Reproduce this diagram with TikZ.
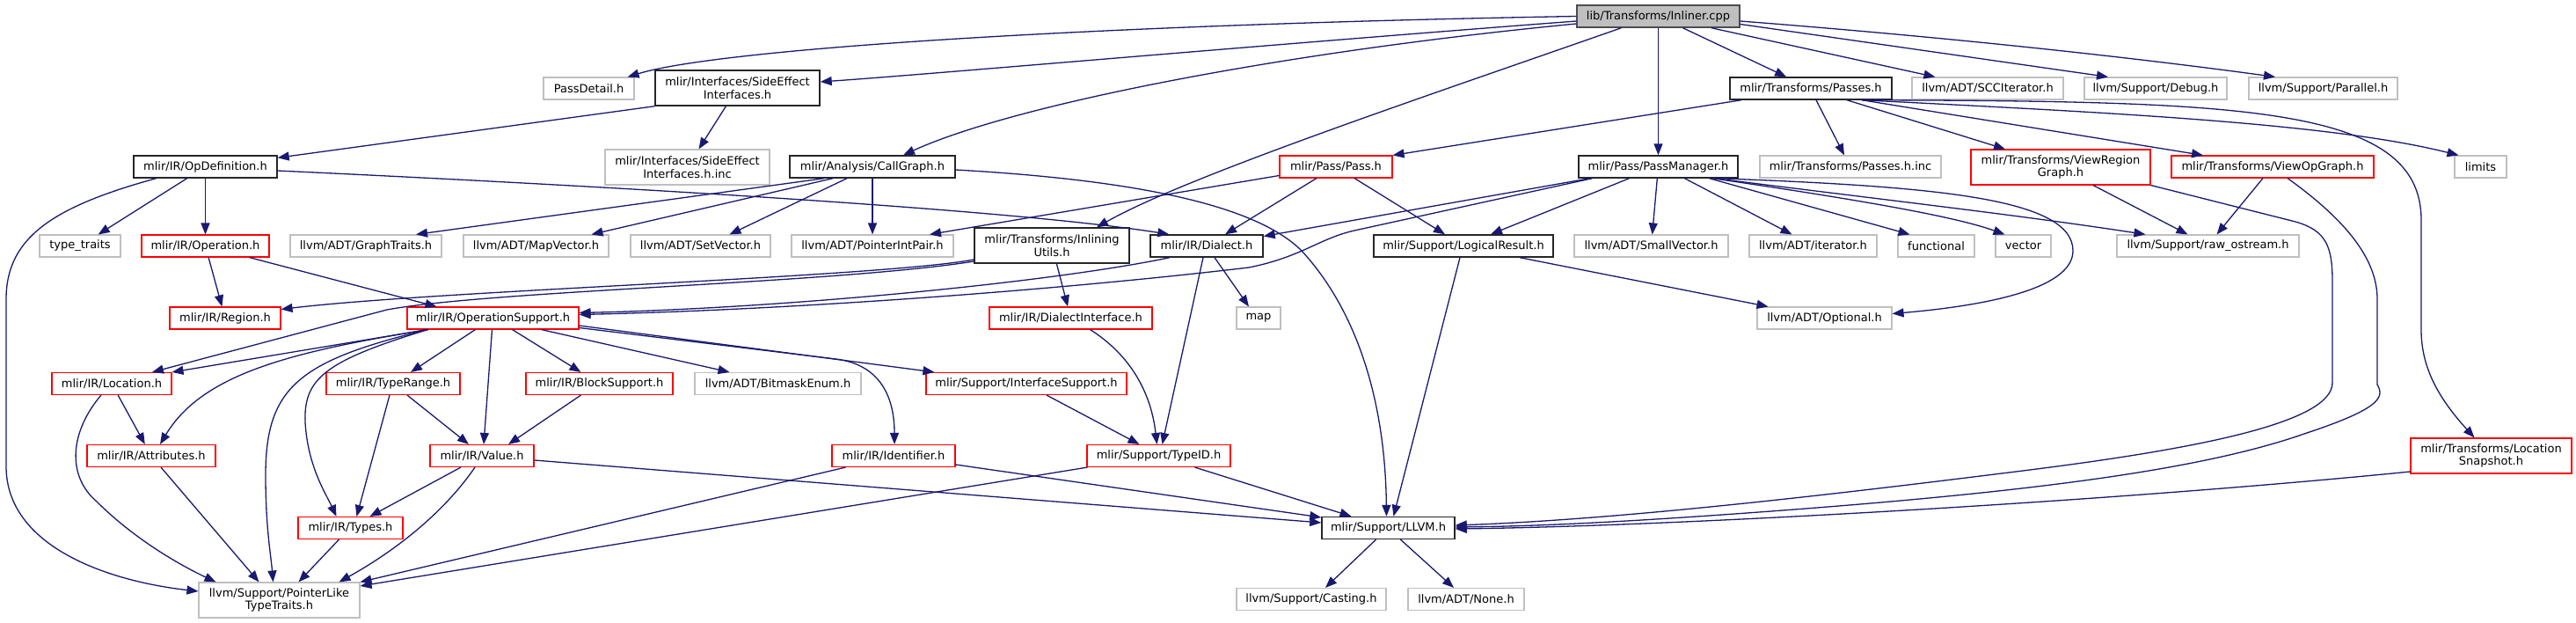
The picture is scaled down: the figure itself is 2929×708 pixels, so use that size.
\documentclass[tikz,border=0pt]{standalone}
\usepackage{fontspec}
\setmainfont{DejaVu Sans}
\usetikzlibrary{arrows.meta}
\definecolor{edgec}{HTML}{191970}
\definecolor{grayb}{HTML}{BFBFBF}
\definecolor{redb}{HTML}{FF0000}
\tikzset{
 box/.style={rectangle, inner sep=0pt, minimum height=25pt, font=\fontsize{13pt}{14.5pt}\selectfont, align=center, line width=1.1pt},
 gbox/.style={box, draw=grayb},
 rbox/.style={box, draw=redb},
 bbox/.style={box, draw=black!85, line width=1.4pt},
 rootbox/.style={box, draw=black!70, fill=grayb, line width=1.4pt},
 tall/.style={minimum height=40pt},
 e/.style={draw=edgec, line width=1.3pt, -{Triangle[length=13pt,width=10pt]}},
}
\begin{document}
\begin{tikzpicture}[x=1pt,y=-1pt]
\path[use as bounding box] (0,0) rectangle (2929,708);
% row 0
\node[rootbox, minimum width=185pt] (root) at (1885.5,18.5) {lib/Transforms/Inliner.cpp};
% row 1
\node[gbox, minimum width=103pt] (passdetail) at (669.5,100.5) {PassDetail.h};
\node[bbox, tall, minimum width=187pt] (sideeff) at (838.5,100) {mlir/Interfaces/SideEffect\\Interfaces.h};
\node[bbox, minimum width=184pt] (passes) at (2059,100.5) {mlir/Transforms/Passes.h};
\node[gbox, minimum width=172pt] (scc) at (2260,100.5) {llvm/ADT/SCCIterator.h};
\node[gbox, minimum width=162pt] (debug) at (2451,100.5) {llvm/Support/Debug.h};
\node[gbox, minimum width=169pt] (parallel) at (2641.5,100.5) {llvm/Support/Parallel.h};
% row 2
\node[bbox, minimum width=163pt] (opdef) at (233.5,189.5) {mlir/IR/OpDefinition.h};
\node[gbox, tall, minimum width=187pt] (sideinc) at (781.5,190) {mlir/Interfaces/SideEffect\\Interfaces.h.inc};
\node[bbox, minimum width=188pt] (callgraph) at (992,189.5) {mlir/Analysis/CallGraph.h};
\node[rbox, minimum width=128pt] (pass) at (1519,189.5) {mlir/Pass/Pass.h};
\node[bbox, minimum width=181pt] (passmgr) at (1885.5,189.5) {mlir/Pass/PassManager.h};
\node[gbox, minimum width=206pt] (passesinc) at (2104,189.5) {mlir/Transforms/Passes.h.inc};
\node[rbox, tall, minimum width=204pt] (viewregion) at (2343,190) {mlir/Transforms/ViewRegion\\Graph.h};
\node[rbox, minimum width=230pt] (viewop) at (2584,189.5) {mlir/Transforms/ViewOpGraph.h};
\node[gbox, minimum width=59pt] (limits) at (2820.5,189.5) {limits};
% row 3
\node[gbox, minimum width=92pt] (typetraits) at (91,279.5) {type\_traits};
\node[rbox, minimum width=145pt] (operation) at (233.5,279.5) {mlir/IR/Operation.h};
\node[gbox, minimum width=172pt] (graphtraits) at (416,279.5) {llvm/ADT/GraphTraits.h};
\node[gbox, minimum width=165pt] (mapvector) at (609.5,279.5) {llvm/ADT/MapVector.h};
\node[gbox, minimum width=159pt] (setvector) at (796.5,279.5) {llvm/ADT/SetVector.h};
\node[gbox, minimum width=184pt] (pip) at (992,279.5) {llvm/ADT/PointerIntPair.h};
\node[bbox, tall, minimum width=176pt] (inlutils) at (1196,279) {mlir/Transforms/Inlining\\Utils.h};
\node[bbox, minimum width=128pt] (dialect) at (1372,279.5) {mlir/IR/Dialect.h};
\node[bbox, minimum width=204pt] (logres) at (1664,279.5) {mlir/Support/LogicalResult.h};
\node[gbox, minimum width=175pt] (smallvec) at (1877.5,279.5) {llvm/ADT/SmallVector.h};
\node[gbox, minimum width=145pt] (iterator) at (2061.5,279.5) {llvm/ADT/iterator.h};
\node[gbox, minimum width=87pt] (functional) at (2201.5,279.5) {functional};
\node[gbox, minimum width=63pt] (vector) at (2300.5,279.5) {vector};
\node[gbox, minimum width=207pt] (rawos) at (2510.5,279.5) {llvm/Support/raw\_ostream.h};
% row 4
\node[rbox, minimum width=126pt] (region) at (256,361.5) {mlir/IR/Region.h};
\node[rbox, minimum width=195pt] (opsupport) at (560.5,361.5) {mlir/IR/OperationSupport.h};
\node[rbox, minimum width=185pt] (dialint) at (1217.5,361.5) {mlir/IR/DialectInterface.h};
\node[gbox, minimum width=50pt] (map) at (1431,361.5) {map};
\node[gbox, minimum width=153pt] (optional) at (2074.5,361.5) {llvm/ADT/Optional.h};
% row 5
\node[rbox, minimum width=136pt] (location) at (127,436) {mlir/IR/Location.h};
\node[rbox, minimum width=152pt] (typerange) at (447,436) {mlir/IR/TypeRange.h};
\node[rbox, minimum width=167pt] (blocksupport) at (681.5,436) {mlir/IR/BlockSupport.h};
\node[gbox, minimum width=189pt] (bitmask) at (884.5,436) {llvm/ADT/BitmaskEnum.h};
\node[rbox, minimum width=228pt] (ifsupport) at (1167,436) {mlir/Support/InterfaceSupport.h};
\node[rbox, tall, minimum width=183pt] (locsnap) at (2832.5,518) {mlir/Transforms/Location\\Snapshot.h};
% row 6
\node[rbox, minimum width=146pt] (attributes) at (172,518) {mlir/IR/Attributes.h};
\node[rbox, minimum width=118pt] (value) at (548,518) {mlir/IR/Value.h};
\node[rbox, minimum width=140pt] (identifier) at (1016,518) {mlir/IR/Identifier.h};
\node[rbox, minimum width=163pt] (typeid) at (1317.5,518) {mlir/Support/TypeID.h};
% row 7
\node[rbox, minimum width=119pt] (types) at (398.5,600) {mlir/IR/Types.h};
\node[bbox, minimum width=151pt] (llvm) at (1578.5,600) {mlir/Support/LLVM.h};
% row 8
\node[gbox, tall, minimum width=183pt] (pltt) at (317.5,682) {llvm/Support/PointerLike\\TypeTraits.h};
\node[gbox, minimum width=170pt] (casting) at (1491,681) {llvm/Support/Casting.h};
\node[gbox, minimum width=132pt] (none) at (1667,681) {llvm/ADT/None.h};

% ---- edges from root
\draw[e] (root.west) .. controls (1250,28) and (820,55) .. ([xshift=-8pt]passdetail.north east);
\draw[e] ([yshift=-5.5pt]root.west) .. controls (1450,50) and (1050,85) .. ([yshift=7pt]sideeff.east);
\draw[e] ([yshift=-8.5pt]root.west) .. controls (1450,60) and (1150,120) .. ([xshift=35pt]callgraph.north);
\draw[e] ([xshift=-42pt]root.south) .. controls (1620,110) and (1350,200) .. ([xshift=51pt]inlutils.north);
\draw[e] (root) -- (passmgr);
\draw[e] (root) -- (passes);
\draw[e] (root) -- (scc);
\draw[e] ([yshift=-9pt]root.east) -- ([xshift=-54pt]debug.north);
\draw[e] ([yshift=-5.5pt]root.east) .. controls (2250,45) and (2460,70) .. ([xshift=-54.5pt]parallel.north);
% ---- side effect
\draw[e] (sideeff) -- (sideinc);
\draw[e] (sideeff.south west) -- ([yshift=-3pt]opdef.north east);
% ---- opdefinition
\draw[e] (opdef) -- (typetraits);
\draw[e] (opdef) -- (operation);
\draw[e] ([xshift=-56pt]opdef.south) .. controls (60,235) and (7,270) .. (7,340) -- (7,530) .. controls (7,620) and (120,660) .. ([yshift=10pt]pltt.west);
\draw[e] ([yshift=-4.5pt]opdef.east) .. controls (700,212) and (1150,238) .. ([xshift=22pt]dialect.north west);
% ---- callgraph
\draw[e] ([xshift=-55pt]callgraph.south) -- ([xshift=57pt]graphtraits.north);
\draw[e] ([xshift=-45pt]callgraph.south) -- ([xshift=63pt]mapvector.north);
\draw[e] ([xshift=-29pt]callgraph.south) -- ([xshift=33pt]setvector.north);
\draw[e] (callgraph) -- (pip);
\draw[e] ([yshift=-3.5pt]callgraph.east) .. controls (1300,205) and (1430,235) .. (1480,285) .. controls (1540,350) and (1575,450) .. ([xshift=-2pt]llvm.north);
% ---- pass
\draw[e] ([yshift=-10pt]pass.west) -- ([xshift=65pt]pip.north);
\draw[e] ([xshift=-22pt]pass.south) -- ([xshift=21pt]dialect.north);
\draw[e] ([xshift=21pt]pass.south) -- ([xshift=-21pt]logres.north);
% ---- passes
\draw[e] ([xshift=-79pt]passes.south) -- (pass.north east);
\draw[e] ([xshift=6pt]passes.south) -- ([xshift=-7pt]passesinc.north);
\draw[e] ([xshift=41pt]passes.south) -- ([xshift=-63pt]viewregion.north);
\draw[e] ([xshift=58pt]passes.south) -- ([xshift=-79pt]viewop.north);
\draw[e] ([xshift=58pt]passes.south) .. controls (2400,128) and (2650,140) .. ([xshift=-25pt]limits.north);
\draw[e] ([xshift=58pt]passes.south) .. controls (2550,115) and (2753,120) .. (2753,250) -- (2753,375) .. controls (2753,420) and (2775,455) .. ([xshift=-19pt]locsnap.north);
% ---- passmanager
\draw[e] ([xshift=-78pt]passmgr.south) -- ([yshift=11pt]dialect.east);
\draw[e] ([xshift=-75pt]passmgr.south) -- (1540,262) .. controls (1500,271) and (1480,292) .. (1420,304) .. controls (1200,330) and (900,352) .. ([yshift=4pt]opsupport.east);
\draw[e] ([xshift=-33pt]passmgr.south) -- ([xshift=31pt]logres.north);
\draw[e] (passmgr) -- (smallvec);
\draw[e] ([xshift=30pt]passmgr.south) -- ([xshift=-24pt]iterator.north);
\draw[e] ([xshift=58pt]passmgr.south) -- ([xshift=-30pt]functional.north);
\draw[e] ([xshift=62pt]passmgr.south) .. controls (2100,225) and (2220,245) .. ([xshift=-21pt]vector.north);
\draw[e] ([xshift=64pt]passmgr.south) .. controls (2150,228) and (2300,245) .. ([xshift=33pt]rawos.north west);
\draw[e] ([xshift=68pt]passmgr.south) .. controls (2200,212) and (2357,225) .. (2357,285) .. controls (2357,330) and (2250,348) .. ([yshift=5pt]optional.east);
% ---- view graphs
\draw[e] ([xshift=37pt]viewregion.south) -- ([xshift=-23pt]rawos.north);
\draw[e] (viewregion.south east) -- (2610,252) .. controls (2645,262) and (2652,280) .. (2652,320) -- (2652,435) .. controls (2652,480) and (2500,510) .. (2300,535) .. controls (2100,560) and (1850,590) .. ([yshift=3pt]llvm.east);
\draw[e] ([xshift=-11pt]viewop.south) -- ([xshift=10pt]rawos.north);
\draw[e] ([xshift=17pt]viewop.south) .. controls (2660,245) and (2703,290) .. (2703,340) -- (2703,437) .. controls (2712,452) and (2705,465) .. (2620,493) .. controls (2500,535) and (2300,560) .. (2000,582) .. controls (1850,593) and (1750,598) .. ([yshift=1pt]llvm.east);
\draw[e] ([yshift=-18pt]locsnap.west) .. controls (2400,570) and (1900,598) .. ([yshift=-1pt]llvm.east);
% ---- logical result
\draw[e] ([xshift=-4pt]logres.south) -- ([xshift=6pt]llvm.north);
\draw[e] ([xshift=64pt]logres.south) -- ([xshift=-64pt]optional.north);
% ---- dialect
\draw[e] ([xshift=-42pt]dialect.south) .. controls (1200,320) and (900,350) .. ([yshift=6pt]opsupport.east);
\draw[e] ([xshift=9pt]dialect.south) -- ([xshift=-11pt]map.north);
\draw[e] ([xshift=-4pt]dialect.south) -- ([xshift=4pt]typeid.north);
% ---- inlining utils
\draw[e] (inlutils) -- (dialint);
\draw[e] ([yshift=-16pt]inlutils.west) .. controls (1000,315) and (500,330) .. ([yshift=10pt]region.east);
\draw[e] ([yshift=-18pt]inlutils.west) .. controls (950,322) and (560,330) .. (440,352) -- ([xshift=46pt]location.north);
% ---- operation
\draw[e] (operation) -- (region);
\draw[e] ([xshift=50pt]operation.south) -- ([xshift=34pt]opsupport.north west);
% ---- operation support
\draw[e] ([xshift=24pt]opsupport.south west) -- (location.north east);
\draw[e] ([xshift=24pt]opsupport.south west) .. controls (330,400) and (230,425) .. ([xshift=10pt]attributes.north);
\draw[e] ([xshift=24pt]opsupport.south west) .. controls (340,410) and (302,440) .. (302,540) .. controls (302,600) and (308,630) .. ([xshift=-7pt]pltt.north);
\draw[e] ([xshift=24pt]opsupport.south west) .. controls (370,410) and (345,430) .. (347,480) .. controls (350,530) and (370,560) .. ([xshift=-16pt]types.north);
\draw[e] ([xshift=-20pt]opsupport.south) -- ([xshift=20pt]typerange.north);
\draw[e] ([xshift=-1pt]opsupport.south) -- ([xshift=2pt]value.north);
\draw[e] ([xshift=22pt]opsupport.south) -- ([xshift=-21pt]blocksupport.north);
\draw[e] ([xshift=55pt]opsupport.south) -- ([xshift=-55pt]bitmask.north);
\draw[e] ([yshift=-8.5pt]opsupport.east) -- ([xshift=10pt]ifsupport.north west);
\draw[e] ([yshift=-11pt]opsupport.east) -- (950,408) .. controls (1000,414) and (1017,450) .. ([xshift=1pt]identifier.north);
% ---- location, attributes
\draw[e] (location) -- (attributes);
\draw[e] ([xshift=-12pt]location.south) .. controls (80,490) and (75,540) .. (110,570) .. controls (150,610) and (200,640) .. ([xshift=-72pt]pltt.north);
\draw[e] ([xshift=11pt]attributes.south) -- ([xshift=-23pt]pltt.north);
% ---- type range, block support
\draw[e] ([xshift=-4pt]typerange.south) -- ([xshift=7pt]types.north);
\draw[e] ([xshift=16pt]typerange.south) -- ([xshift=-15pt]value.north);
\draw[e] ([xshift=-21pt]blocksupport.south) -- ([xshift=30pt]value.north);
% ---- interface support, dialect interface
\draw[e] ([xshift=23pt]ifsupport.south) -- ([xshift=-22pt]typeid.north);
\draw[e] ([xshift=22pt]dialint.south) .. controls (1280,400) and (1308,440) .. ([xshift=-2pt]typeid.north);
% ---- value
\draw[e] ([xshift=-24pt]value.south) -- ([xshift=22pt]types.north);
\draw[e] ([xshift=-8pt]value.south) .. controls (510,575) and (460,620) .. ([xshift=68pt]pltt.north);
\draw[e] ([yshift=-5pt]value.east) -- ([yshift=6pt]llvm.west);
% ---- identifier, typeid
\draw[e] ([yshift=-10pt]identifier.east) -- ([yshift=12pt]llvm.west);
\draw[e] ([xshift=16pt]identifier.south west) -- (pltt.north east);
\draw[e] ([xshift=41pt]typeid.south) -- ([xshift=-42pt]llvm.north);
\draw[e] ([xshift=1pt]typeid.south west) -- ([yshift=16pt]pltt.east);
% ---- types
\draw[e] ([xshift=-13pt]types.south) -- ([xshift=22pt]pltt.north);
% ---- llvm
\draw[e] ([xshift=-14pt]llvm.south) -- ([xshift=16pt]casting.north);
\draw[e] ([xshift=14pt]llvm.south) -- ([xshift=-14pt]none.north);
\end{tikzpicture}
\end{document}
